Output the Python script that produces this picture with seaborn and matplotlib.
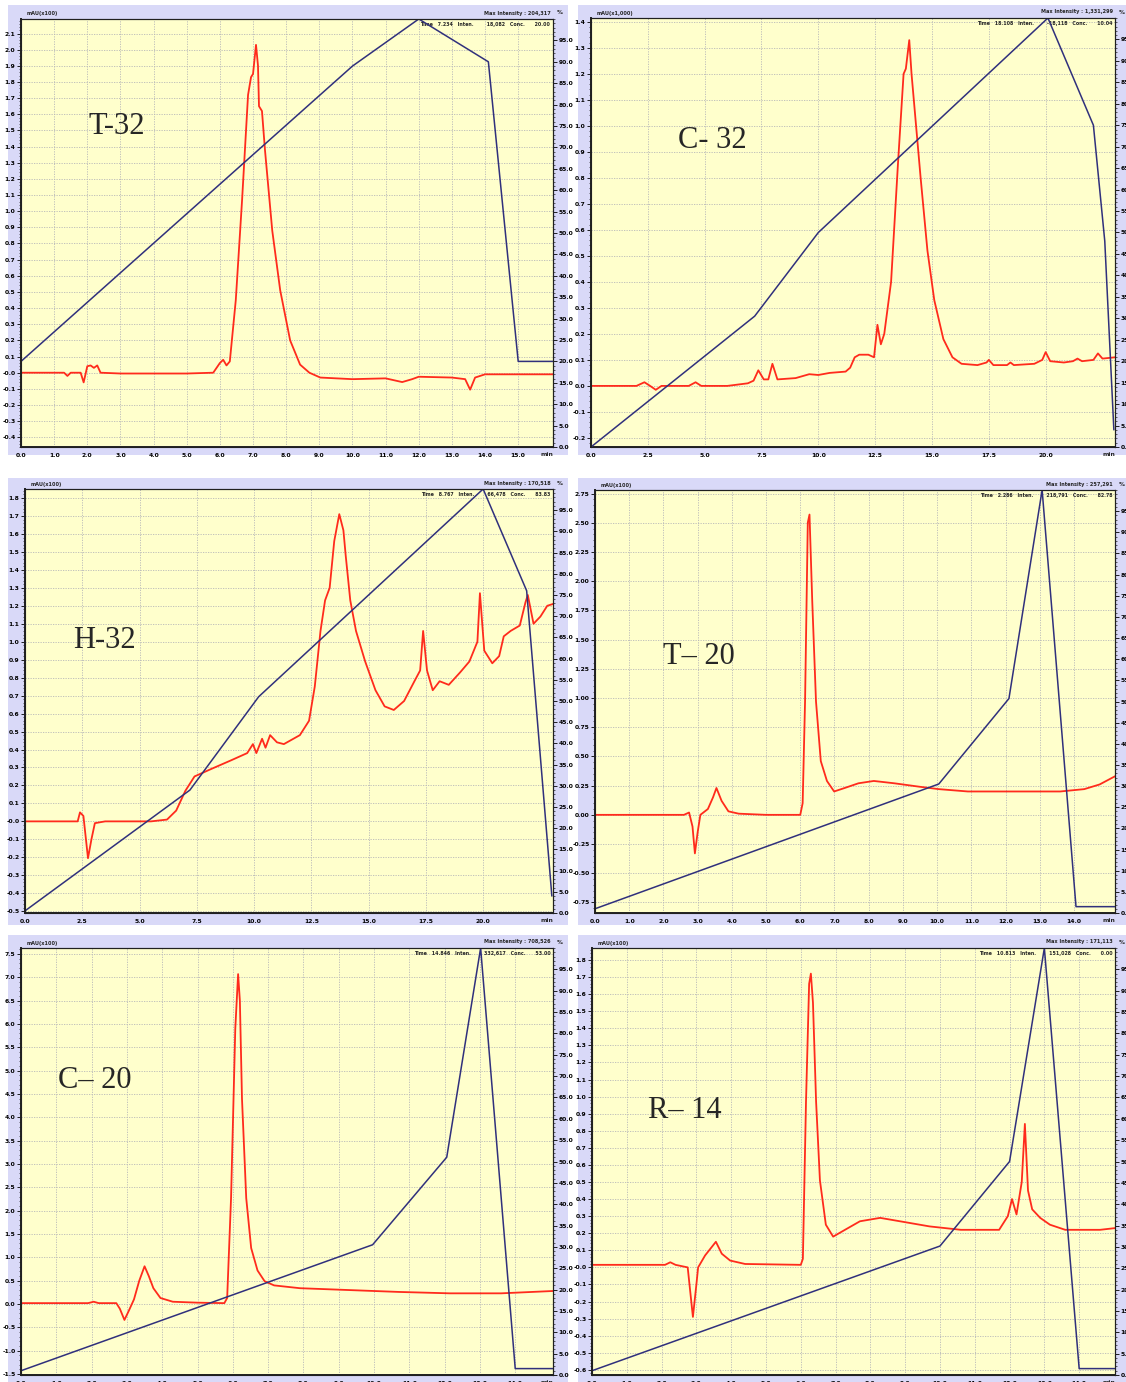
import numpy as np
import pandas as pd
import seaborn as sns
import matplotlib
matplotlib.use("Agg")
import matplotlib.pyplot as plt
from matplotlib.patches import Rectangle
from matplotlib.ticker import FixedLocator, AutoMinorLocator, FormatStrFormatter

# ---------------- data (time in min) ----------------
# T-32
t32_time = [0, 1.3, 1.4, 1.5, 1.8, 1.89, 2.0, 2.1, 2.2, 2.3, 2.4, 3.0, 5.0, 5.8, 6.0, 6.1, 6.2,
            6.3, 6.48, 6.67, 6.85, 6.94, 7.0, 7.09, 7.15, 7.18, 7.27, 7.36, 7.58, 7.82, 8.12,
            8.42, 8.7, 9.03, 10.0, 11.0, 11.5, 11.8, 12.0, 13.0, 13.4, 13.55, 13.7, 14.0, 16.05]
t32_abs = [0.0, 0.0, -0.02, 0.0, 0.0, -0.06, 0.04, 0.045, 0.03, 0.045, 0.0, -0.005, -0.005, 0.0,
           0.06, 0.08, 0.045, 0.07, 0.45, 1.07, 1.72, 1.83, 1.85, 2.03, 1.9, 1.65, 1.62, 1.38,
           0.88, 0.51, 0.2, 0.05, 0.0, -0.03, -0.04, -0.035, -0.058, -0.04, -0.025, -0.03, -0.04,
           -0.105, -0.03, -0.01, -0.01]
t32_grad_time = [0, 10.0, 12.0, 14.1, 15.0, 16.05]
t32_grad = [20, 89, 100, 90, 20, 20]

# C-32
c32_time = [0, 2.0, 2.35, 2.6, 2.85, 3.1, 4.3, 4.6, 4.85, 6.0, 6.9, 7.15, 7.36, 7.6, 7.8, 7.98,
            8.2, 9.0, 9.6, 10.0, 10.5, 11.2, 11.4, 11.6, 11.8, 12.2, 12.45, 12.6, 12.75, 12.9,
            13.2, 13.5, 13.75, 13.85, 14.0, 14.1, 14.3, 14.5, 14.8, 15.1, 15.5, 15.9, 16.3,
            17.0, 17.4, 17.5, 17.7, 18.3, 18.45, 18.6, 19.5, 19.85, 20.0, 20.2, 20.8, 21.2,
            21.4, 21.6, 22.1, 22.3, 22.5, 23.05]
c32_abs = [0, 0, 0.014, 0.0, -0.015, 0.0, 0.0, 0.014, 0.0, 0.0, 0.01, 0.02, 0.06, 0.025, 0.025,
           0.085, 0.025, 0.03, 0.045, 0.042, 0.05, 0.055, 0.07, 0.11, 0.12, 0.12, 0.11, 0.235,
           0.16, 0.2, 0.4, 0.85, 1.2, 1.22, 1.33, 1.2, 1.0, 0.8, 0.52, 0.33, 0.18, 0.11, 0.085,
           0.08, 0.09, 0.1, 0.08, 0.08, 0.09, 0.08, 0.085, 0.1, 0.13, 0.095, 0.09, 0.095, 0.105,
           0.095, 0.1, 0.125, 0.105, 0.11]
c32_grad_time = [0, 7.2, 10.0, 20.1, 22.1, 22.6, 23.0]
c32_grad = [0, 30.5, 50, 100, 75, 48, 4]

# H-32
h32_time = [0, 2.3, 2.4, 2.55, 2.75, 2.9, 3.05, 3.5, 5.5, 6.2, 6.6, 7.0, 7.4, 8.1, 9.0, 9.7,
            9.95, 10.1, 10.35, 10.5, 10.7, 11.0, 11.3, 12.0, 12.4, 12.65, 12.9, 13.1, 13.3,
            13.5, 13.72, 13.9, 14.0, 14.2, 14.45, 14.85, 15.3, 15.7, 16.1, 16.55, 17.0, 17.25,
            17.38, 17.55, 17.8, 18.1, 18.5, 19.0, 19.4, 19.75, 19.86, 20.05, 20.4, 20.7, 20.9,
            21.2, 21.6, 21.85, 21.95, 22.2, 22.5, 22.8, 23.05]
h32_abs = [0, 0, 0.05, 0.03, -0.205, -0.1, -0.01, 0.0, 0.0, 0.01, 0.06, 0.17, 0.25, 0.29, 0.34,
           0.38, 0.43, 0.38, 0.46, 0.41, 0.48, 0.44, 0.43, 0.48, 0.56, 0.75, 1.06, 1.23, 1.3,
           1.56, 1.71, 1.62, 1.48, 1.23, 1.06, 0.89, 0.73, 0.64, 0.62, 0.67, 0.78, 0.84, 1.06,
           0.84, 0.73, 0.78, 0.76, 0.83, 0.89, 1.0, 1.27, 0.95, 0.88, 0.92, 1.03, 1.06, 1.09,
           1.22, 1.26, 1.1, 1.14, 1.2, 1.21]
h32_grad_time = [0, 7.2, 10.2, 20.0, 21.9, 23.0]
h32_grad = [0.5, 29, 51, 100, 76, 4]

# T-20
t20_time = [0, 2.6, 2.75, 2.85, 2.92, 3.0, 3.08, 3.3, 3.45, 3.55, 3.7, 3.9, 4.2, 5.0, 6.0, 6.07,
            6.14, 6.22, 6.27, 6.35, 6.46, 6.6, 6.78, 6.99, 7.3, 7.7, 8.15, 8.75, 9.5, 10.05,
            10.9, 11.8, 12.7, 13.6, 14.3, 14.75, 15.2]
t20_abs = [0, 0, 0.02, -0.1, -0.33, -0.15, 0.0, 0.05, 0.15, 0.23, 0.12, 0.03, 0.01, 0.0, 0.0,
           0.1, 0.97, 2.5, 2.57, 1.83, 0.97, 0.46, 0.29, 0.2, 0.23, 0.27, 0.29, 0.27, 0.24,
           0.22, 0.2, 0.2, 0.2, 0.2, 0.22, 0.26, 0.33]
t20_grad_time = [0, 10.05, 12.1, 13.07, 14.06, 15.2]
t20_grad = [1, 30.5, 50.7, 100, 1.5, 1.5]

# C-20
c20_time = [0, 1.9, 2.06, 2.2, 2.7, 2.8, 2.93, 3.05, 3.2, 3.35, 3.5, 3.62, 3.75, 3.95, 4.3, 5.0,
            5.76, 5.84, 5.95, 6.07, 6.15, 6.2, 6.26, 6.38, 6.52, 6.7, 6.9, 7.17, 7.9, 9.3, 10.7,
            12.15, 13.6, 15.07]
c20_abs = [0.02, 0.02, 0.05, 0.02, 0.02, -0.1, -0.34, -0.15, 0.1, 0.5, 0.81, 0.6, 0.34, 0.13,
           0.05, 0.03, 0.02, 0.13, 2.27, 5.9, 7.07, 6.5, 4.4, 2.27, 1.2, 0.72, 0.49, 0.4, 0.34,
           0.3, 0.26, 0.23, 0.23, 0.28]
c20_grad_time = [0, 9.96, 12.06, 13.02, 14.0, 15.07]
c20_grad = [1, 30.5, 51, 100, 1.5, 1.5]

# R-14
r14_time = [0, 2.1, 2.25, 2.4, 2.75, 2.9, 3.0, 3.05, 3.25, 3.56, 3.73, 3.97, 4.4, 6.0, 6.06,
            6.15, 6.24, 6.29, 6.35, 6.44, 6.55, 6.72, 6.93, 7.27, 7.7, 8.28, 8.85, 9.7, 10.6,
            11.7, 11.95, 12.07, 12.2, 12.35, 12.44, 12.53, 12.65, 12.88, 13.16, 13.6, 14.0,
            14.6, 15.03]
r14_abs = [0.015, 0.015, 0.03, 0.015, 0.0, -0.29, -0.1, 0.0, 0.07, 0.15, 0.08, 0.04, 0.02,
           0.015, 0.05, 0.97, 1.66, 1.72, 1.55, 0.97, 0.51, 0.25, 0.18, 0.22, 0.27, 0.29, 0.27,
           0.24, 0.22, 0.22, 0.3, 0.4, 0.31, 0.5, 0.84, 0.45, 0.34, 0.29, 0.25, 0.22, 0.22,
           0.22, 0.23]
r14_grad_time = [0, 10.0, 12.0, 13.0, 14.0, 15.03]
r14_grad = [1, 30.2, 50, 100, 1.5, 1.5]

labels = ["T-32", "C- 32", "H-32", "T\u2013 20", "C\u2013 20", "R\u2013 14"]
y_units = ["mAU(x100)", "mAU(x1,000)", "mAU(x100)", "mAU(x100)", "mAU(x100)", "mAU(x100)"]
max_int = ["204,317", "1,331,299", "170,518", "257,291", "708,526", "171,113"]
cursor_txt = [("7.234", "18,082", "20.00"), ("18.108", "-18,118", "10.04"),
              ("8.767", "66,478", "83.83"), ("2.286", "218,791", "82.78"),
              ("14.846", "332,617", "53.00"), ("10.813", "151,028", "0.00")]

# ---------------- layout (pixels of the 1126x1382 picture) ----------------
W, H = 1126, 1382
RED = "#ff2b1c"
NAVY = "#30307c"
LAV = "#d9d9f8"
YEL = "#ffffcc"

panels = [
    dict(t=t32_time, a=t32_abs, gt=t32_grad_time, g=t32_grad, outer=(8, 5, 568, 455),
         plot=(21, 19, 553, 447), xlim=(0, 16.05), ylim=(-0.46, 2.19),
         yt=np.arange(-0.4, 2.15, 0.1), yfmt="%.1f", xt=np.arange(0, 15.5, 1.0), lab=(88, 127)),
    dict(t=c32_time, a=c32_abs, gt=c32_grad_time, g=c32_grad, outer=(578, 5, 1126, 455),
         plot=(591, 18, 1115, 447), xlim=(0, 23.05), ylim=(-0.235, 1.415),
         yt=np.arange(-0.2, 1.45, 0.1), yfmt="%.1f", xt=np.arange(0, 20.5, 2.5), lab=(678, 141)),
    dict(t=h32_time, a=h32_abs, gt=h32_grad_time, g=h32_grad, outer=(8, 478, 568, 925),
         plot=(25, 489, 553, 913), xlim=(0, 23.05), ylim=(-0.51, 1.85),
         yt=np.arange(-0.5, 1.85, 0.1), yfmt="%.1f", xt=np.arange(0, 20.5, 2.5), lab=(73, 640)),
    dict(t=t20_time, a=t20_abs, gt=t20_grad_time, g=t20_grad, outer=(578, 478, 1126, 925),
         plot=(595, 490, 1115, 913), xlim=(0, 15.2), ylim=(-0.84, 2.78),
         yt=np.arange(-0.75, 2.8, 0.25), yfmt="%.2f", xt=np.arange(0, 14.5, 1.0), lab=(663, 656)),
    dict(t=c20_time, a=c20_abs, gt=c20_grad_time, g=c20_grad, outer=(8, 935, 568, 1390),
         plot=(21, 948, 553, 1375), xlim=(0, 15.07), ylim=(-1.52, 7.63),
         yt=np.arange(-1.5, 7.6, 0.5), yfmt="%.1f", xt=np.arange(0, 14.5, 1.0), lab=(58, 1080)),
    dict(t=r14_time, a=r14_abs, gt=r14_grad_time, g=r14_grad, outer=(578, 935, 1126, 1390),
         plot=(592, 948, 1115, 1375), xlim=(0, 15.03), ylim=(-0.63, 1.87),
         yt=np.arange(-0.6, 1.85, 0.1), yfmt="%.1f", xt=np.arange(0, 14.5, 1.0), lab=(648, 1110)),
]

sns.set_style("white")
plt.rcParams['font.family'] = ['DejaVu Sans']

fig = plt.figure(figsize=(W / 100, H / 100), dpi=100)


def frac_rect(x0, y0, x1, y1):
    return [x0 / W, 1 - y1 / H, (x1 - x0) / W, (y1 - y0) / H]


for i, p in enumerate(panels):
    ox0, oy0, ox1, oy1 = p["outer"]
    fig.patches.append(Rectangle((ox0 / W, 1 - oy1 / H), (ox1 - ox0) / W, (oy1 - oy0) / H,
                                 transform=fig.transFigure, facecolor=LAV, edgecolor="none",
                                 zorder=-5))
    x0, y0, x1, y1 = p["plot"]
    ax = fig.add_axes(frac_rect(x0, y0, x1, y1))
    ax.set_facecolor(YEL)
    ax2 = ax.twinx()

    df = pd.DataFrame({"time": p["t"], "abs": p["a"]})
    gdf = pd.DataFrame({"time": p["gt"], "pct": p["g"]})
    sns.lineplot(data=df, x="time", y="abs", ax=ax, color=RED, linewidth=1.3,
                 estimator=None, sort=False, legend=False)
    sns.lineplot(data=gdf, x="time", y="pct", ax=ax2, color=NAVY, linewidth=1.1,
                 estimator=None, sort=False, legend=False)

    ax.set_xlim(*p["xlim"])
    ax.set_ylim(*p["ylim"])
    ax2.set_ylim(0, 100)
    ax.set_xlabel("")
    ax.set_ylabel("")
    ax2.set_ylabel("")

    ax.yaxis.set_major_locator(FixedLocator(p["yt"]))
    ax.yaxis.set_major_formatter(FormatStrFormatter(p["yfmt"]))
    ax.yaxis.set_minor_locator(AutoMinorLocator(5))
    ax.xaxis.set_major_locator(FixedLocator(p["xt"]))
    ax.xaxis.set_major_formatter(FormatStrFormatter("%.1f"))
    ax.xaxis.set_minor_locator(AutoMinorLocator(5))
    ax2.yaxis.set_major_locator(FixedLocator(np.arange(0, 96, 5)))
    ax2.yaxis.set_major_formatter(FormatStrFormatter("%.1f"))
    ax2.yaxis.set_minor_locator(AutoMinorLocator(5))

    ax.grid(True, which="major", color="#b8b8b8", linestyle=(0, (1.5, 1.5)), linewidth=0.6)
    ax.set_axisbelow(True)
    for a in (ax, ax2):
        a.tick_params(which="major", direction="out", length=3, width=0.6, pad=1,
                      labelsize=4.3, colors="black")
        a.tick_params(which="minor", direction="out", length=1.5, width=0.5)
        for s in a.spines.values():
            s.set_color("#202020")
            s.set_linewidth(0.8)
    ax.spines["left"].set_linewidth(1.4)
    ax.spines["bottom"].set_linewidth(1.4)
    for lbl in ax.get_xticklabels() + ax.get_yticklabels() + ax2.get_yticklabels():
        lbl.set_fontweight("bold")

    # header texts of the instrument printout
    fig.text((x0 + 6) / W, 1 - (y0 - 5) / H, y_units[i], fontsize=3.6, fontweight="bold",
             ha="left", va="center")
    fig.text((x1 - 2) / W, 1 - (y0 - 6) / H, "Max Intensity : " + max_int[i], fontsize=3.6,
             fontweight="bold", ha="right", va="center")
    fig.text((x1 + 4) / W, 1 - (y0 - 6) / H, "%", fontsize=4.2, fontweight="bold",
             ha="left", va="center")
    tm, it, cc = cursor_txt[i]
    ax.text(0.995, 0.994, "Time   %s   Inten.        %s   Conc.      %s" % (tm, it, cc),
            transform=ax.transAxes, fontsize=3.4, fontweight="bold", ha="right", va="top")
    ax.text(1.0, -0.012, "min", transform=ax.transAxes, fontsize=4.3, fontweight="bold",
            ha="right", va="top")

    lx, ly = p["lab"]
    fig.text(lx / W, 1 - ly / H, labels[i], fontsize=22, family="Liberation Serif",
             ha="left", va="center", zorder=10)

fig.savefig("out.png", dpi=100)
